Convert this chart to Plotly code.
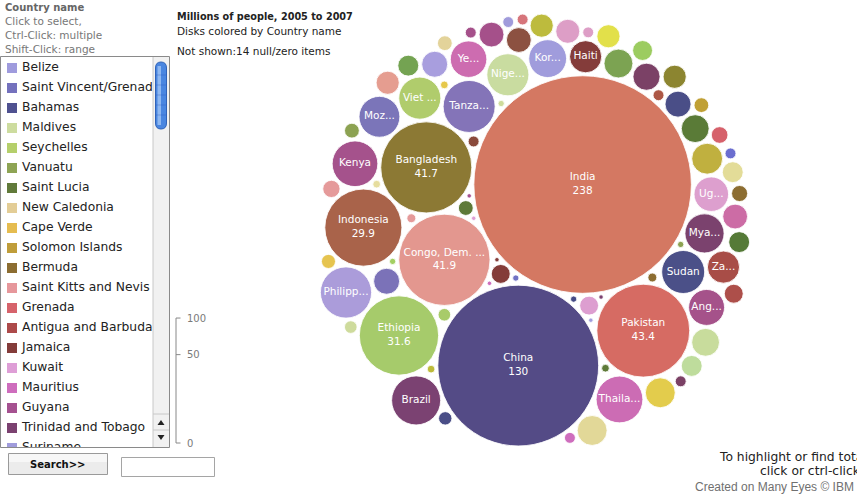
import numpy as np
import plotly.graph_objects as go

# ---------------- data (listbox order: null items first, then ascending) ----------------
countries = [
    "Belize", "Saint Vincent/Grenadines", "Bahamas", "Maldives", "Seychelles", "Vanuatu",
    "Saint Lucia", "New Caledonia", "Cape Verde", "Solomon Islands", "Bermuda",
    "Saint Kitts and Nevis", "Grenada", "Antigua and Barbuda",
    "Jamaica", "Kuwait", "Mauritius", "Guyana", "Trinidad and Tobago", "Suriname",
    "Lesotho", "Gambia", "Timor-Leste", "Mauritania", "Swaziland", "Djibouti", "Gabon", "Fiji", "Comoros",
    "Georgia", "Jordan",
    "Congo", "Armenia", "El Salvador", "Panama", "Morocco", "Kyrgyzstan", "Azerbaijan", "Namibia", "Botswana",
    "Mongolia", "Paraguay", "Honduras",
    "Benin", "Burkina Faso", "Nicaragua", "Liberia", "Ghana", "Lao PDR",
    "Guinea", "Mali",
    "Sierra Leone", "Tajikistan", "Central African Republic", "Togo",
    "Dominican Republic", "Senegal", "Ecuador", "Venezuela",
    "Iran", "Côte d'Ivoire", "Eritrea", "Bolivia", "Guatemala",
    "Rwanda", "Burundi", "Niger", "Malawi", "Cambodia", "Uzbekistan", "Peru",
    "Cameroon", "Chad", "Colombia", "Sri Lanka", "Zimbabwe", "Nepal",
    "Haiti", "Zambia", "Uganda", "Angola", "Yemen", "Korea, Dem. People's Rep.", "Myanmar",
    "Mozambique", "Nigeria", "Viet Nam", "Sudan", "Kenya", "Thailand", "Brazil",
    "Philippines", "Tanzania, United Rep.", "Indonesia", "Ethiopia", "Bangladesh",
    "Congo, Dem. Rep.", "Pakistan", "China", "India",
]
values = [
    None, None, None, None, None, None, None, None, None, None, None, None, None, None,
    0.1, 0.1, 0.1, 0.1, 0.1, 0.1,
    0.2, 0.2, 0.2, 0.2, 0.2, 0.3, 0.3, 0.3, 0.3,
    0.4, 0.4,
    0.6, 0.6, 0.6, 0.6, 0.6, 0.6, 0.6, 0.6, 0.6,
    0.8, 0.8, 0.9,
    1.0, 1.1, 1.1, 1.1, 1.1, 1.3,
    1.4, 1.5,
    1.8, 1.8, 1.8, 2.0,
    2.2, 2.2, 2.2, 2.2,
    2.7, 2.7, 2.7, 2.7, 2.9,
    3.1, 3.1, 3.1, 3.4, 3.4, 3.4, 3.7,
    3.9, 3.9, 4.2, 4.5, 4.5, 4.8,
    5.2, 5.2, 6.0, 6.5, 6.7, 7.2, 7.7,
    8.4, 8.9, 8.9, 9.3, 10.5, 11.0, 12.1,
    13.2, 13.6, 29.9, 31.6, 41.7,
    41.9, 43.4, 130, 238,
]
colors = [
    "#9f9bdd", "#7471bd", "#4f5190", "#cddc9f", "#b5cf6b", "#8ea454", "#617a3a", "#e3cd96",
    "#e5bc50", "#bf9d3a", "#8c6d31", "#e6979b", "#d6636b", "#ad4a4a",
    "#843c3a", "#de9ed6", "#ce6dbd", "#a55190", "#7b4170", "#a09cdc",
    "#7071c4", "#454b86", "#cedb9c", "#a3cf62", "#8ca252", "#5e7a38", "#e6dd9e", "#e6c84a", "#bdbb3a",
    "#e59a9a", "#8c6d31",
    "#8a4a3c", "#ad5846", "#dd9ec6", "#a5508a", "#a09bdb", "#6b6ecf", "#7b4165", "#ce6dbd", "#d6757b",
    "#a8cb6a", "#cedb9c", "#4a4e87",
    "#e6c44f", "#5e7a38", "#e3d39a", "#c0a035", "#8ca252", "#8c6d31",
    "#d6616b", "#e59a9a",
    "#843c39", "#dd9ed0", "#ad4f4a", "#9ccc60",
    "#557a37", "#e3dc98", "#bedc9c", "#74a352",
    "#bdbb3d", "#e59d90", "#e2e04a", "#8c8530", "#dd9ec6",
    "#8c5141", "#a5508a", "#cc6ca5", "#7b72b8", "#a89ede", "#4a4e87", "#7b4166",
    "#5a7b37", "#c8dc9c", "#7ca352", "#e2d898", "#e3cc4c", "#c0b03f",
    "#843c3a", "#a84d47", "#dd9fce", "#a5528a", "#cd6cb0", "#a09cdc", "#7b426e",
    "#7b75b9", "#c9dca0", "#b0cc6c", "#4b5088", "#a5528c", "#cc6cb4", "#7b4272",
    "#ab9cda", "#8474b8", "#a9634a", "#a6cb6b", "#8c7934",
    "#e3978f", "#d66b63", "#544b86", "#d47862",
]

title_text = "Millions of people, 2005 to 2007"
subtitle_text = "Disks colored by Country name"
list_header = "Country name"
list_help = ["Click to select,", "Ctrl-Click: multiple", "Shift-Click: range"]
size_ticks = [0, 50, 100]

# ---------------- geometry / style constants ----------------
W, H = 857, 496
K = 7.05          # px per sqrt(million people)
GAP = 1.5         # half of the white gap between disks
LABEL_FS = 10.5
LABEL_MARGIN = 4.5
CLUSTER_CENTER = (535.0, 230.0)
FIRST_PAIR_DIR = np.arctan2(180.0, -64.0)
LIST_ROWS = 20    # rows visible in the scrolled list box

# ---------------- circle packing: largest first, each disk at the tangent spot
# nearest to the centre of the bounding box of the disks already placed ----------------
shown = [i for i, v in enumerate(values) if v is not None]
vals = np.array([values[i] for i in shown], float)
order = np.argsort(-vals, kind="stable")
idx = [shown[o] for o in order]
rad = K * np.sqrt(vals[order])
R = rad + GAP
n = len(R)
P = np.zeros((n, 2))
P[1] = (R[0] + R[1]) * np.array([np.cos(FIRST_PAIR_DIR), np.sin(FIRST_PAIR_DIR)])
for i in range(2, n):
    Q, Rq, ri = P[:i], R[:i], R[i]
    cen = np.array([((Q[:, 0] - Rq).min() + (Q[:, 0] + Rq).max()) / 2,
                    ((Q[:, 1] - Rq).min() + (Q[:, 1] + Rq).max()) / 2])
    a, b = np.triu_indices(i, 1)
    dv = Q[b] - Q[a]
    d = np.hypot(dv[:, 0], dv[:, 1])
    ra, rb = Rq[a] + ri, Rq[b] + ri
    m = (d < ra + rb) & (d > np.abs(ra - rb))
    a, b, dv, d, ra, rb = a[m], b[m], dv[m], d[m], ra[m], rb[m]
    x = (d ** 2 + ra ** 2 - rb ** 2) / (2 * d)
    h = np.sqrt(np.maximum(ra ** 2 - x ** 2, 0))
    e = dv / d[:, None]
    perp = np.stack([-e[:, 1], e[:, 0]], 1)
    base = Q[a] + e * x[:, None]
    cand = np.concatenate([base + perp * h[:, None], base - perp * h[:, None]])
    D = np.hypot(cand[:, None, 0] - Q[None, :, 0], cand[:, None, 1] - Q[None, :, 1])
    ok = (D >= Rq[None, :] + ri - 1e-6).all(1)
    cand = cand[ok]
    P[i] = cand[np.argmin(((cand - cen) ** 2).sum(1))]

xmin, xmax = (P[:, 0] - rad).min(), (P[:, 0] + rad).max()
ymin, ymax = (P[:, 1] - rad).min(), (P[:, 1] + rad).max()
P[:, 0] += CLUSTER_CENTER[0] - (xmin + xmax) / 2
P[:, 1] += CLUSTER_CENTER[1] - (ymin + ymax) / 2

# ---------------- labels ----------------
EM = {' ': .318, '.': .318, ',': .318, "'": .275, '-': .361, '/': .337, 'ô': .612,
      'a': .613, 'b': .635, 'c': .550, 'd': .635, 'e': .615, 'f': .352, 'g': .635, 'h': .634,
      'i': .278, 'j': .278, 'k': .579, 'l': .278, 'm': .974, 'n': .634, 'o': .612, 'p': .635,
      'q': .635, 'r': .411, 's': .521, 't': .392, 'u': .634, 'v': .592, 'w': .818, 'x': .592,
      'y': .592, 'z': .525, 'A': .684, 'B': .686, 'C': .698, 'D': .770, 'E': .632, 'F': .575,
      'G': .775, 'H': .752, 'I': .295, 'J': .295, 'K': .656, 'L': .557, 'M': .863, 'N': .748,
      'O': .787, 'P': .603, 'Q': .787, 'R': .695, 'S': .635, 'T': .611, 'U': .732, 'V': .684,
      'W': .989, 'X': .685, 'Y': .611, 'Z': .685}


def text_w(s):
    return sum(EM.get(c, .636) for c in s) * LABEL_FS


def fit_label(name, diam):
    lim = diam - LABEL_MARGIN
    if text_w(name) <= lim:
        return name
    for j in range(len(name) - 1, 0, -1):
        s = name[:j] + "..."
        if text_w(s) <= lim:
            return s
    return ""


lab_x, lab_y, lab_t = [], [], []
for k, ci in enumerate(idx):
    dm = 2 * rad[k]
    if dm < 32:
        continue
    t = fit_label(countries[ci], dm)
    if dm >= 60:
        t += "<br>" + f"{values[ci]:.3g}"
    lab_x.append(P[k, 0]); lab_y.append(P[k, 1]); lab_t.append(t)

fig = go.Figure()
fig.add_trace(go.Scatter(
    x=P[:, 0], y=P[:, 1], mode="markers",
    marker=dict(size=2 * rad, sizemode="diameter", color=[colors[c] for c in idx],
                line=dict(width=1, color="rgba(255,255,255,0.85)"), opacity=1),
    customdata=[[countries[c], values[c]] for c in idx],
    hovertemplate="%{customdata[0]}<br>%{customdata[1]}<extra></extra>",
    cliponaxis=False, showlegend=False))
fig.add_trace(go.Scatter(
    x=lab_x, y=lab_y, mode="text", text=lab_t, textposition="middle center",
    textfont=dict(family="DejaVu Sans", size=LABEL_FS, color="white"),
    hoverinfo="skip", cliponaxis=False, showlegend=False))

# ---------------- list box (clipped subplot, scrolled to the top) ----------------
LB = dict(x0=1, x1=153, y0=57, y1=447)
rows = list(range(LIST_ROWS))
rows_y = [68 + 20 * i for i in rows]
fig.add_trace(go.Scatter(
    x=[12] * len(rows), y=rows_y, mode="markers", xaxis="x2", yaxis="y2",
    marker=dict(symbol="square", size=10, color=[colors[i] for i in rows], line=dict(width=0)),
    hoverinfo="skip", showlegend=False))
fig.add_trace(go.Scatter(
    x=[22] * len(rows), y=rows_y, mode="text", xaxis="x2", yaxis="y2",
    text=[countries[i] for i in rows], textposition="middle right",
    textfont=dict(family="DejaVu Sans", size=12.3, color="#222222"),
    hoverinfo="skip", showlegend=False))

shapes = []
shapes.append(dict(type="rect", xref="x", yref="y", x0=0.5, x1=169.5, y0=56.5, y1=447.5,
                   line=dict(color="#8a8a8a", width=1), fillcolor="rgba(0,0,0,0)"))
shapes.append(dict(type="rect", xref="x", yref="y", x0=153, x1=169, y0=57, y1=447,
                   line=dict(width=0), fillcolor="#f1f1f1", layer="below"))
shapes.append(dict(type="line", xref="x", yref="y", x0=153, x1=153, y0=57, y1=447,
                   line=dict(color="#c8c8c8", width=1)))
shapes.append(dict(type="path", xref="x", yref="y",
                   path="M 155.5 68 Q 155.5 62 161 62 Q 166.5 62 166.5 68 L 166.5 123 "
                        "Q 166.5 129 161 129 Q 155.5 129 155.5 123 Z",
                   fillcolor="#4a86e0", line=dict(color="#2f62b8", width=1)))
shapes.append(dict(type="rect", xref="x", yref="y", x0=157.5, x1=161, y0=66, y1=125,
                   fillcolor="rgba(200,225,255,0.55)", line=dict(width=0)))
for yy in (75, 85, 95, 105, 115):
    shapes.append(dict(type="line", xref="x", yref="y", x0=156, x1=166, y0=yy, y1=yy,
                       line=dict(color="rgba(40,90,190,0.35)", width=1)))
shapes.append(dict(type="line", xref="x", yref="y", x0=153, x1=169, y0=414, y1=414,
                   line=dict(color="#c8c8c8", width=1)))
shapes.append(dict(type="line", xref="x", yref="y", x0=153, x1=169, y0=430, y1=430,
                   line=dict(color="#c8c8c8", width=1)))
shapes.append(dict(type="path", xref="x", yref="y", path="M 157.5 425 L 164.5 425 L 161 420 Z",
                   fillcolor="#222", line=dict(width=0)))
shapes.append(dict(type="path", xref="x", yref="y", path="M 157.5 435 L 164.5 435 L 161 440 Z",
                   fillcolor="#222", line=dict(width=0)))
shapes.append(dict(type="rect", xref="x", yref="y", x0=8.5, x1=107.5, y0=453.5, y1=474.5,
                   fillcolor="#ececec", line=dict(color="#9a9a9a", width=1)))
shapes.append(dict(type="rect", xref="x", yref="y", x0=9, x1=107, y0=454, y1=462,
                   fillcolor="#f7f7f7", line=dict(width=0)))
shapes.append(dict(type="rect", xref="x", yref="y", x0=121.5, x1=214.5, y0=457.5, y1=476.5,
                   fillcolor="white", line=dict(color="#a5a5a5", width=1)))


# size legend (side of a square with the disk's area)
def legend_y(v):
    return 443 - K * np.sqrt(np.pi * v)


def txt(x, y, s, size, color="#222", family="DejaVu Sans", xanchor="left"):
    return dict(x=x, y=y, xref="x", yref="y", text=s, showarrow=False, xanchor=xanchor,
                yanchor="middle", font=dict(family=family, size=size, color=color))


ly = [legend_y(v) for v in size_ticks]
shapes.append(dict(type="line", xref="x", yref="y", x0=176, x1=176, y0=min(ly), y1=max(ly),
                   line=dict(color="#888", width=1)))
ann = []
for v, yy in zip(size_ticks, ly):
    shapes.append(dict(type="line", xref="x", yref="y", x0=176, x1=180.5, y0=yy, y1=yy,
                       line=dict(color="#888", width=1)))
    ann.append(txt(185, yy, str(v), 10, "#7a7a7a"))

ann.append(txt(3, 7, "<b>" + list_header + "</b>", 10, "#666"))
for j, s in enumerate(list_help):
    ann.append(txt(3, 21 + 14 * j, s, 10.5, "#777"))
ann.append(txt(57.5, 464, "<b>Search&gt;&gt;</b>", 10, "#111", xanchor="center"))
n_null = sum(v is None for v in values)
ann.append(txt(175, 16, "<b>" + title_text + "</b>", 9.7, "#222"))
ann.append(txt(175, 31, subtitle_text, 10.5, "#222"))
ann.append(txt(175, 51, f"Not shown:{n_null} null/zero items", 10.5, "#222"))
ann.append(txt(717, 457, "To highlight or find totals,", 12.3, "#222"))
ann.append(txt(758, 471, "click or ctrl-click disks", 12.3, "#222"))
ann.append(txt(856, 487, "Created on Many Eyes © IBM", 12, "#707070", family="Liberation Sans",
               xanchor="right"))

fig.update_layout(
    width=W, height=H, margin=dict(l=0, r=0, t=0, b=0),
    paper_bgcolor="white", plot_bgcolor="white", showlegend=False,
    xaxis=dict(range=[0, W], domain=[0, 1], visible=False, fixedrange=True),
    yaxis=dict(range=[H, 0], domain=[0, 1], visible=False, fixedrange=True),
    xaxis2=dict(range=[LB["x0"], LB["x1"]], domain=[LB["x0"] / W, LB["x1"] / W],
                visible=False, fixedrange=True, anchor="y2"),
    yaxis2=dict(range=[LB["y1"], LB["y0"]], domain=[1 - LB["y1"] / H, 1 - LB["y0"] / H],
                visible=False, fixedrange=True, anchor="x2"),
    shapes=shapes, annotations=ann, hovermode="closest",
)
fig.write_html("out.html", post_script="document.body.style.margin='0px';",
               config={"displayModeBar": False})
